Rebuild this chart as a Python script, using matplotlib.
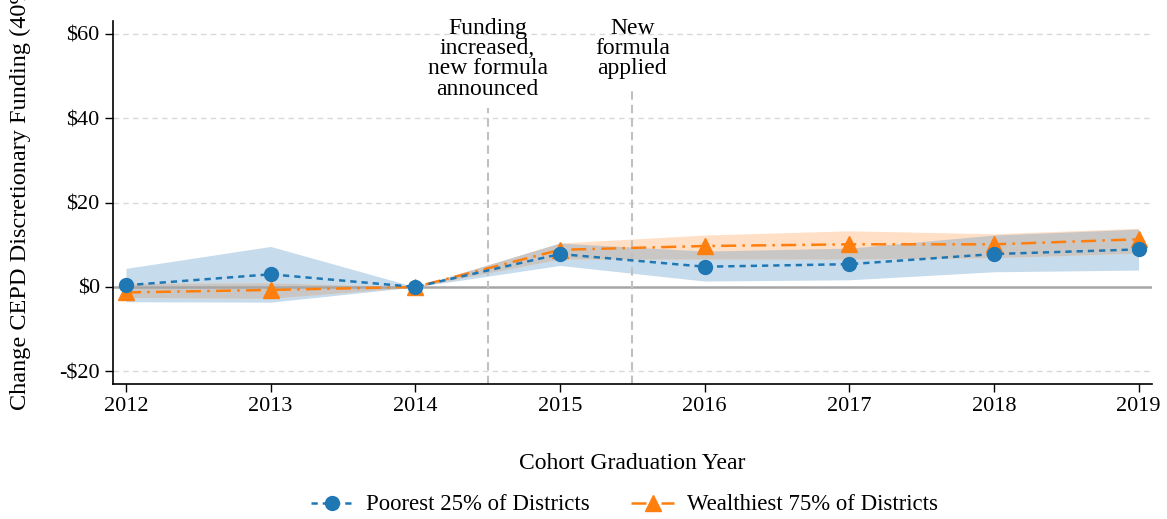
import numpy as np
import matplotlib.pyplot as plt

plt.rcParams['font.family'] = ['Liberation Serif', 'DejaVu Serif']

years = [2012, 2013, 2014, 2015, 2016, 2017, 2018, 2019]

# poorest 25% of districts
poor = [0.4, 3.0, 0.0, 7.8, 4.8, 5.4, 7.8, 8.9]
poor_lo = [-3.5, -3.6, 0.0, 5.1, 1.4, 1.7, 3.6, 4.0]
poor_hi = [4.4, 9.6, 0.0, 10.4, 8.5, 9.2, 12.3, 13.7]

# wealthiest 75% of districts
rich = [-1.3, -0.7, 0.0, 8.8, 9.7, 10.1, 10.1, 11.3]
rich_lo = [-2.5, -2.7, 0.0, 6.6, 6.6, 6.6, 6.9, 8.0]
rich_hi = [0.9, 1.0, 0.0, 10.4, 12.3, 13.3, 12.6, 13.9]

yticks = [-20, 0, 20, 40, 60]
ytick_labels = ['-$20', '$0', '$20', '$40', '$60']

events = [2014.5, 2015.5]
event_labels = ['Funding\nincreased,\nnew formula\nannounced', 'New\nformula\napplied']
event_line_tops = [42.4, 46.7]

blue = '#1f77b4'
orange = '#ff7f0e'

fig = plt.figure(figsize=(11.67, 5.19), dpi=100)
ax = fig.add_axes([0.0968, 0.26, 0.89, 0.6995])

x = np.array(years)
ax.fill_between(x, poor_lo, poor_hi, color='#c6dbec', lw=0, zorder=1)
ax.fill_between(x, rich_lo, rich_hi, color='#ffdfc6', lw=0, zorder=1.1)
# overlap of the two bands shown in grey
lo = np.maximum(poor_lo, rich_lo)
hi = np.minimum(poor_hi, rich_hi)
ax.fill_between(x, lo, hi, where=hi >= lo, interpolate=True, color='#c9c7c5', lw=0, zorder=1.2)

for yt in [-20, 20, 40, 60]:
    ax.axhline(yt, color='#d9d9d9', lw=1, ls=(0, (4, 3)), zorder=0)
ax.axhline(0, color='#a6a6a6', lw=1.8, zorder=1.5)

for ev, lab, top in zip(events, event_labels, event_line_tops):
    ax.plot([ev, ev], [-23, top], color='#c0c0c0', lw=1.5, ls=(0, (4, 2.5)), zorder=1.6)
    ax.text(ev, 63.8, lab, ha='center', va='top', fontsize=17, linespacing=0.96, zorder=3)

ax.plot(x, poor, color=blue, ls=(0, (2.5, 2)), lw=1.8, marker='o', ms=10,
        label='Poorest 25% of Districts', zorder=4)
ax.plot(x, rich, color=orange, ls=(0, (6, 2.5, 1, 2.5)), lw=1.8, marker='^', ms=11,
        label='Wealthiest 75% of Districts', zorder=3.5)

ax.set_xlim(2011.91, 2019.09)
ax.set_ylim(-23, 63)
ax.set_xticks(years)
ax.set_yticks(yticks)
ax.set_yticklabels(ytick_labels)
ax.tick_params(labelsize=16, length=6, width=1)
for s in ['top', 'right']:
    ax.spines[s].set_visible(False)
ax.spines['left'].set_linewidth(1.2)
ax.spines['bottom'].set_linewidth(1.2)

ax.set_xlabel('Cohort Graduation Year', fontsize=17)
ax.xaxis.set_label_coords(0.5, -0.19)
fig.text(20 / 1167, 1 - 410 / 519, 'Change CEPD Discretionary Funding (40% Cut)',
         rotation=90, ha='center', va='bottom', fontsize=17.5)

fig.legend(loc='center', bbox_to_anchor=(0.535, 0.027), ncol=2, frameon=False,
           fontsize=16.4, handlelength=1.9, handletextpad=0.55, columnspacing=1.8)

fig.savefig('out.png', dpi=100)
